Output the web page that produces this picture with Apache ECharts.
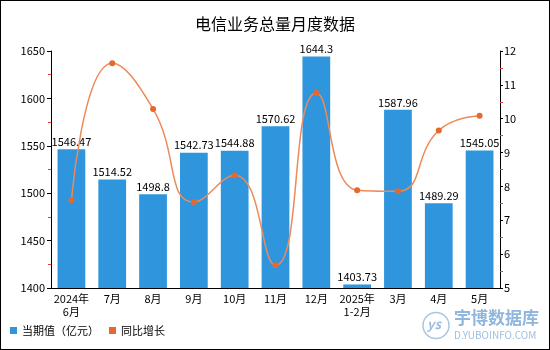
<!DOCTYPE html>
<html>
<head>
<meta charset="utf-8">
<script src="https://cdn.jsdelivr.net/npm/echarts@6/dist/echarts.min.js"></script>
<style>
html,body{margin:0;padding:0;background:#fff;}
#c{width:550px;height:350px;box-sizing:border-box;border:1px solid #000;}
</style>
</head>
<body>
<div id="c"></div>
<script>
// 电信业务总量月度数据
const categories = ['2024年\n6月', '7月', '8月', '9月', '10月', '11月', '12月', '2025年\n1-2月', '3月', '4月', '5月'];
const amounts = [1546.47, 1514.52, 1498.8, 1542.73, 1544.88, 1570.62, 1644.3, 1403.73, 1587.96, 1489.29, 1545.05];
const growth = [7.6, 11.64, 10.29, 7.54, 8.33, 5.67, 10.76, 7.89, 7.86, 9.65, 10.09];
const leftTicks = { min: 1400, max: 1650, interval: 50 };
const rightTicks = { min: 5, max: 12, interval: 1 };

const font = '"Noto Sans CJK SC", "Noto Sans", sans-serif';
const chart = echarts.init(document.getElementById('c'));
chart.setOption({
  animation: false,
  textStyle: { fontFamily: font },
  title: {
    text: '电信业务总量月度数据',
    left: 'center',
    top: 10,
    textStyle: { fontSize: 16, fontWeight: 'normal', color: '#000', fontFamily: font }
  },
  legend: {
    left: 4,
    bottom: 8,
    itemWidth: 7,
    itemHeight: 7,
    itemGap: 10,
    icon: 'rect',
    textStyle: { fontSize: 11, color: '#000', fontFamily: font },
    data: ['当期值（亿元）', '同比增长']
  },
  grid: { left: 50, right: 49, top: 50, bottom: 61 },
  xAxis: {
    type: 'category',
    data: categories,
    axisLine: { lineStyle: { color: '#000' } },
    axisTick: { show: false },
    axisLabel: { color: '#000', fontSize: 11, interval: 0, lineHeight: 13, margin: 4 }
  },
  yAxis: [
    {
      type: 'value',
      min: leftTicks.min, max: leftTicks.max, interval: leftTicks.interval,
      axisLine: { show: true, lineStyle: { color: '#000' } },
      axisTick: { show: true, length: 4, lineStyle: { color: '#000' } },
      minorTick: { show: true, splitNumber: 2, length: 3, lineStyle: { color: '#e04040' } },
      splitLine: { show: false },
      axisLabel: { color: '#000', fontSize: 11, margin: 6, formatter: v => String(v) }
    },
    {
      type: 'value',
      min: rightTicks.min, max: rightTicks.max, interval: rightTicks.interval,
      position: 'right',
      axisLine: { show: true, lineStyle: { color: '#000' } },
      axisTick: { show: true, length: 3, lineStyle: { color: '#000' } },
      minorTick: { show: true, splitNumber: 2, length: 3, lineStyle: { color: '#e04040' } },
      splitLine: { show: false },
      axisLabel: { color: '#000', fontSize: 11, margin: 4, formatter: v => String(v) }
    }
  ],
  series: [
    {
      name: '当期值（亿元）',
      type: 'bar',
      data: amounts,
      barWidth: '68%',
      itemStyle: { color: '#2f96dd' },
      label: { show: true, position: 'top', color: '#000', fontSize: 11, distance: 2 }
    },
    {
      name: '同比增长',
      type: 'line',
      yAxisIndex: 1,
      data: growth,
      smooth: true,
      symbol: 'circle',
      symbolSize: 6,
      lineStyle: { color: '#ec8a5a', width: 1.5 },
      itemStyle: { color: '#e5692f' }
    }
  ],
  graphic: [
    {
      type: 'group',
      right: 10,
      bottom: 8,
      children: [
        { type: 'circle', shape: { cx: 14, cy: 14, r: 13 }, style: { fill: 'none', stroke: '#a9c6e2', lineWidth: 1.5 } },
        { type: 'text', x: 5, y: 6, style: { text: 'ys', fill: '#9dbfdf', font: 'italic bold 13px ' + font } },
        { type: 'text', x: 32, y: -2, style: { text: '宇博数据库', fill: '#8fb6dc', font: 'bold 17px ' + font } },
        { type: 'text', x: 32, y: 19, style: { text: 'D.YUBOINFO.COM', fill: '#9dbfdf', font: '10px ' + font } }
      ]
    }
  ]
});
</script>
</body>
</html>
